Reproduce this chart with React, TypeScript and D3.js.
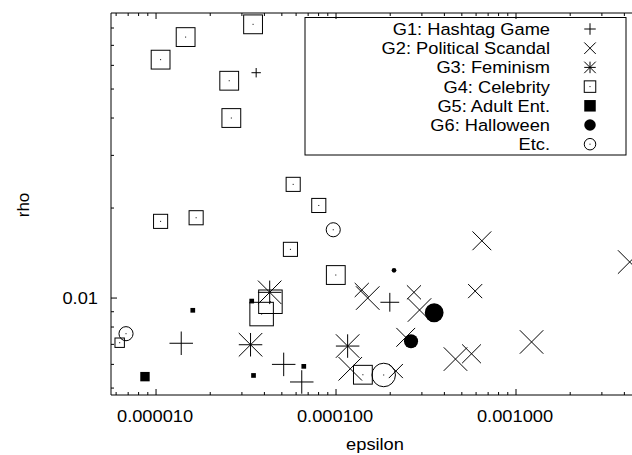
import * as d3 from "d3";
import React, { useEffect, useRef } from "react";

// each point: [epsilon, rho, weight]  (weight -> point size)
const g1Hashtag = [
  [3.6e-5, 0.0567, 2],
  [1.38e-5, 0.00706, 5],
  [5.12e-5, 0.006, 5],
  [6.45e-5, 0.00524, 5],
  [1.99e-4, 0.00968, 4],
];
const g2Political = [
  [6.46e-4, 0.01554, 4],
  [4.28e-3, 0.0132, 5],
  [1.39e-4, 0.01064, 3],
  [1.5e-4, 0.01, 5],
  [2.71e-4, 0.01045, 3],
  [2.91e-4, 0.00912, 5],
  [5.93e-4, 0.01055, 3],
  [2.44e-4, 0.00739, 4],
  [1.22e-3, 0.00713, 5],
  [4.61e-4, 0.00625, 5],
  [5.66e-4, 0.00651, 4],
  [1.2e-4, 0.0058, 5],
  [2.15e-4, 0.0057, 3],
];
const g3Feminism = [
  [4.28e-5, 0.01045, 5],
  [3.35e-5, 0.00698, 5],
  [1.16e-4, 0.00691, 5],
];
const g4Celebrity = [
  [3.46e-5, 0.0823, 4],
  [1.46e-5, 0.0746, 4],
  [1.06e-5, 0.0627, 4],
  [2.55e-5, 0.0533, 4],
  [2.62e-5, 0.04, 4],
  [5.78e-5, 0.024, 3],
  [8.02e-5, 0.0204, 3],
  [1.06e-5, 0.01805, 3],
  [1.67e-5, 0.01856, 3],
  [5.58e-5, 0.01455, 3],
  [9.97e-5, 0.01194, 4],
  [4.32e-5, 0.00972, 5],
  [3.86e-5, 0.00884, 5],
  [6.28e-6, 0.00709, 2],
  [1.41e-4, 0.00554, 4],
];
const g5Adult = [
  [3.4e-5, 0.00977, 1],
  [1.6e-5, 0.0091, 1],
  [8.68e-6, 0.00546, 2],
  [3.48e-5, 0.00551, 1],
  [6.62e-5, 0.00591, 1],
];
const g6Halloween = [
  [2.1e-4, 0.01238, 1],
  [3.51e-4, 0.00893, 4],
  [2.61e-4, 0.00717, 3],
];
const etcOther = [
  [6.81e-6, 0.0076, 3],
  [9.65e-5, 0.01692, 3],
  [1.84e-4, 0.00553, 5],
];

const seriesNames = [
  "G1: Hashtag Game",
  "G2: Political Scandal",
  "G3: Feminism",
  "G4: Celebrity",
  "G5: Adult Ent.",
  "G6: Halloween",
  "Etc.",
];
const seriesShapes = ["plus", "cross", "star", "box", "fbox", "fcircle", "circle"];
const seriesData = [g1Hashtag, g2Political, g3Feminism, g4Celebrity, g5Adult, g6Halloween, etcOther];

const xMajorTicks = [1e-5, 1e-4, 1e-3];
const xTickLabels = ["0.000010", "0.000100", "0.001000"];
const yMajorTicks = [0.01];
const yTickLabels = ["0.01"];

const FONT = "'Liberation Sans', Arial, Helvetica, sans-serif";
const STRETCH = 1.075;

const App = () => {
  const svgRef = useRef<SVGSVGElement>(null);

  useEffect(() => {
    const svg = d3.select(svgRef.current);
    svg.selectAll("*").remove();

    const left = 111;
    const right = 632;
    const top = 13;
    const bottom = 395;

    const x = d3.scaleLog().domain([5.62e-6, 4.41e-3]).range([left, right]);
    const y = d3.scaleLog().domain([0.00474, 0.0898]).range([bottom, top]);
    const size = d3.scaleLinear().domain([0, 5]).range([0, 23.5]);

    // minor ticks 2..9 in each decade
    const minor = (lo: number, hi: number, domain: number[]) => {
      const out: number[] = [];
      for (let e = lo; e <= hi; e++) {
        for (let m = 2; m <= 9; m++) {
          const v = m * Math.pow(10, e);
          if (v > domain[0] && v < domain[1]) out.push(v);
        }
      }
      return out;
    };
    const xMinor = minor(-6, -3, x.domain());
    const yMinor = minor(-3, -2, y.domain());

    const axes = svg.append("g").attr("stroke", "#000").attr("stroke-width", 1).attr("fill", "none");

    // x ticks, bottom and mirrored top
    const xt = [...xMajorTicks.map((v) => [v, 6]), ...xMinor.map((v) => [v, 3])];
    xt.forEach(([v, len]) => {
      const px = x(v);
      axes.append("line").attr("x1", px).attr("x2", px).attr("y1", bottom).attr("y2", bottom - len);
      axes.append("line").attr("x1", px).attr("x2", px).attr("y1", top).attr("y2", top + len);
    });
    const yt = [...yMajorTicks.map((v) => [v, 6]), ...yMinor.map((v) => [v, 3])];
    yt.forEach(([v, len]) => {
      const py = y(v);
      axes.append("line").attr("x1", left).attr("x2", left + len).attr("y1", py).attr("y2", py);
    });

    // frame (right side falls off the page)
    axes.append("path").attr("d", `M${right},${top}H${left}V${bottom}H${right}`);

    const stretchedText = (px: number, py: number, txt: string, anchor: string) =>
      svg
        .append("text")
        .attr("transform", `translate(${px},${py}) scale(${STRETCH},1)`)
        .attr("text-anchor", anchor)
        .attr("font-family", FONT)
        .attr("font-size", 17)
        .attr("fill", "#000")
        .text(txt);

    xMajorTicks.forEach((v, i) => stretchedText(x(v) - 1, 422, xTickLabels[i], "middle"));
    yMajorTicks.forEach((v, i) => stretchedText(98, y(v) + 6, yTickLabels[i], "end"));
    stretchedText(375, 449.5, "epsilon", "middle");

    svg
      .append("text")
      .attr("transform", "translate(28.5,205) rotate(-90)")
      .attr("text-anchor", "middle")
      .attr("font-family", FONT)
      .attr("font-size", 17)
      .attr("fill", "#000")
      .text("rho");

    const drawMarker = (g: any, shape: string, cx: number, cy: number, s: number) => {
      const h = s / 2;
      const line = `M${cx - h},${cy}H${cx + h}M${cx},${cy - h}V${cy + h}`;
      const diag = `M${cx - h},${cy - h}L${cx + h},${cy + h}M${cx - h},${cy + h}L${cx + h},${cy - h}`;
      const dot = () => g.append("rect").attr("x", cx - 0.5).attr("y", cy - 0.5).attr("width", 1).attr("height", 1).attr("fill", "#000");
      if (shape === "plus") g.append("path").attr("d", line).attr("stroke", "#000").attr("fill", "none");
      else if (shape === "cross") g.append("path").attr("d", diag).attr("stroke", "#000").attr("fill", "none");
      else if (shape === "star") g.append("path").attr("d", line + diag).attr("stroke", "#000").attr("fill", "none");
      else if (shape === "box") {
        g.append("rect").attr("x", cx - h).attr("y", cy - h).attr("width", s).attr("height", s).attr("stroke", "#000").attr("fill", "none");
        dot();
      } else if (shape === "fbox") {
        g.append("rect").attr("x", cx - h).attr("y", cy - h).attr("width", s).attr("height", s).attr("fill", "#000");
      } else if (shape === "circle") {
        g.append("circle").attr("cx", cx).attr("cy", cy).attr("r", h).attr("stroke", "#000").attr("fill", "none");
        dot();
      } else if (shape === "fcircle") {
        g.append("circle").attr("cx", cx).attr("cy", cy).attr("r", h).attr("fill", "#000");
      }
    };

    const plot = svg.append("g").attr("stroke-width", 1);
    seriesData.forEach((pts, i) => {
      const g = plot.append("g");
      pts.forEach(([e, r, w]) => drawMarker(g, seriesShapes[i], x(e), y(r), size(w)));
    });

    // legend
    const legend = svg.append("g");
    legend
      .append("rect")
      .attr("x", 305)
      .attr("y", 17.5)
      .attr("width", 321)
      .attr("height", 137.5)
      .attr("fill", "none")
      .attr("stroke", "#000");
    seriesNames.forEach((name, i) => {
      const base = 35 + i * 19.2;
      stretchedText(550, base, name, "end");
      drawMarker(legend.append("g"), seriesShapes[i], 590, base - 6, 11.5);
    });
  }, []);

  return (
    <div style={{ position: "absolute", left: 0, top: 0 }}>
      <svg ref={svgRef} width={632} height={455} style={{ display: "block" }} />
    </div>
  );
};

export default App;
